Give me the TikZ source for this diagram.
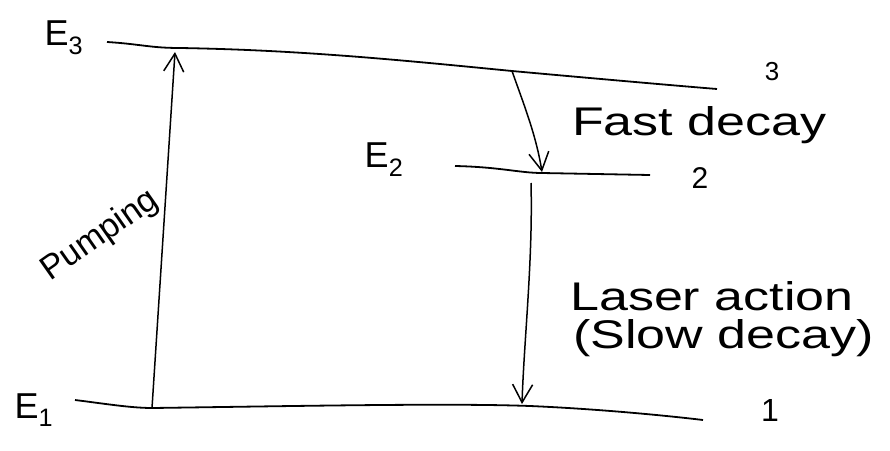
\documentclass[tikz,border=0pt]{standalone}
\usetikzlibrary{arrows.meta}
\usepackage{fontspec}
\setmainfont{Liberation Sans}
\begin{document}
\begin{tikzpicture}[x=1pt,y=-1pt,
  level/.style={line width=1.8pt},
  trans/.style={line width=1.5pt,-{Straight Barb[length=18pt,width=20pt,line width=1.5pt]}},
  lbl/.style={font=\fontsize{36}{40}\selectfont,inner sep=0pt},
  txt/.style={font=\fontsize{40}{44}\selectfont,inner sep=0pt,anchor=west}]
\useasboundingbox (0,0) rectangle (890,450);
% levels
\draw[level] (107,42) .. controls (140,44) and (150,48) .. (180,48) .. controls (300,50) and (400,60) .. (512,71) .. controls (600,79) and (680,86) .. (717,89);
\draw[level] (455,166) .. controls (500,167) and (520,173) .. (542,173) -- (650,175);
\draw[level] (75,400) .. controls (100,403) and (130,408) .. (152,408) .. controls (300,406) and (450,403) .. (530,406) .. controls (600,409) and (670,416) .. (703,420);
% labels
\node[lbl] (e3) at (64,38) {E\textsubscript{3}};
\node[lbl] (e2) at (384,160) {E\textsubscript{2}};
\node[lbl] (e1) at (34,410) {E\textsubscript{1}};
\node[lbl,font=\fontsize{26}{30}\selectfont] (n3) at (772,72) {3};
\node[lbl,font=\fontsize{30}{34}\selectfont] (n2) at (700,178) {2};
\node[lbl,font=\fontsize{32}{36}\selectfont] (n1) at (770,410) {1};
% anchor coordinates
\coordinate (pb) at (152,408);
\coordinate (pt) at (175,52);
\coordinate (fs) at (512,71);
\coordinate (fe) at (542,172);
\coordinate (ls) at (531,183);
\coordinate (le) at (522,404);
% transitions
\draw[trans] (pb) -- (pt);
\draw[trans] (fs) .. controls (524,105) and (536,135) .. (fe);
\draw[trans] (ls) .. controls (533,260) and (524,340) .. (le);
% texts
\node[txt] (fast) at (572,125) {\scalebox{1.3}[1]{Fast decay}};
\node[txt] (laser) at (570,296) {\scalebox{1.3}[1]{Laser action}};
\node[txt] (slow) at (573,338) {\scalebox{1.3}[1]{(Slow decay)}};
\node[lbl,font=\fontsize{34}{38}\selectfont,rotate=35] (pump) at (100,236) {Pumping};
\end{tikzpicture}
\end{document}
